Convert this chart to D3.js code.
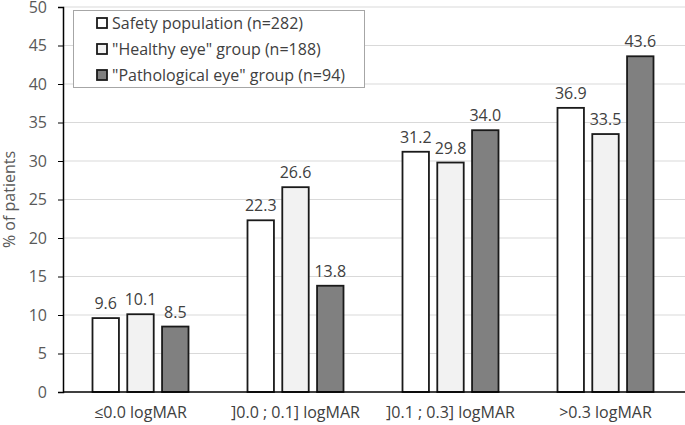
<!DOCTYPE html>
<html><head><meta charset="utf-8">
<script src="https://cdn.jsdelivr.net/npm/d3@7"></script>
<style>body{margin:0;background:#fff}svg{display:block}text{font-family:"Open Sans",sans-serif}</style>
</head><body><svg id="c" width="685" height="425"></svg>
<script>
const categories = ["≤0.0 logMAR", "]0.0 ; 0.1] logMAR", "]0.1 ; 0.3] logMAR", ">0.3 logMAR"];
const seriesNames = ["Safety population (n=282)", "\"Healthy eye\" group (n=188)", "\"Pathological eye\" group (n=94)"];
const safety = [9.6, 22.3, 31.2, 36.9];
const healthy = [10.1, 26.6, 29.8, 33.5];
const pathological = [8.5, 13.8, 34.0, 43.6];
const yTicks = [0, 5, 10, 15, 20, 25, 30, 35, 40, 45, 50];
const fills = ["#ffffff", "#f2f2f2", "#808080"];
const series = [safety, healthy, pathological];

const svg = d3.select("#c");
const m = {l: 63, r: 0, t: 7, b: 33};
const W = 685, H = 425;
const x = d3.scaleBand().domain(categories).range([m.l, 683]).paddingInner(0).paddingOuter(0);
const xs = d3.scaleBand().domain([0,1,2]).range([0, 96]).paddingInner(0.24);
const y = d3.scaleLinear().domain([0, 50]).range([H - m.b, m.t]);
const FS = 16;

// gridlines
svg.append("g").selectAll("line").data(yTicks.filter(d => d > 0)).join("line")
  .attr("x1", m.l).attr("x2", W).attr("y1", d => y(d)).attr("y2", d => y(d))
  .attr("stroke", "#d9d9d9").attr("stroke-width", 1);

// y axis
const ya = svg.append("g").attr("transform", `translate(${m.l},0)`)
  .call(d3.axisLeft(y).tickValues(yTicks).tickSize(5).tickPadding(11));
ya.select(".domain").attr("stroke", "#000").attr("stroke-width", 1.5);
ya.selectAll(".tick line").attr("stroke", "#000").attr("stroke-width", 1);
ya.selectAll(".tick text").attr("font-size", FS).attr("fill", "#595959").attr("font-family", "Open Sans, sans-serif");

// bars
const groups = svg.append("g").selectAll("g").data(categories).join("g")
  .attr("transform", c => `translate(${x(c) + (x.bandwidth() - 96) / 2},0)`);
groups.each(function(c, ci) {
  const g = d3.select(this);
  series.forEach((s, si) => {
    g.append("rect").attr("x", xs(si)).attr("width", xs.bandwidth())
      .attr("y", y(s[ci])).attr("height", y(0) - y(s[ci]))
      .attr("fill", fills[si]).attr("stroke", "#1a1a1a").attr("stroke-width", 1.8);
    g.append("text").attr("x", xs(si) + xs.bandwidth() / 2).attr("y", y(s[ci]) - 9)
      .attr("text-anchor", "middle").attr("font-size", FS).attr("fill", "#404040")
      .text(s[ci].toFixed(1));
  });
});

// x axis line
svg.append("line").attr("x1", m.l).attr("x2", W).attr("y1", y(0)).attr("y2", y(0))
  .attr("stroke", "#000").attr("stroke-width", 1.5);
svg.append("g").selectAll("text").data(categories).join("text")
  .attr("x", c => x(c) + x.bandwidth() / 2).attr("y", 418)
  .attr("text-anchor", "middle").attr("font-size", FS).attr("fill", "#404040").text(c => c);

// y label
svg.append("text").attr("transform", `translate(15,${y(25)}) rotate(-90)`)
  .attr("text-anchor", "middle").attr("font-size", FS).attr("fill", "#595959").text("% of patients");

// legend
const lg = svg.append("g");
lg.append("rect").attr("x", 73.5).attr("y", 10.5).attr("width", 291).attr("height", 77)
  .attr("fill", "#fff").attr("stroke", "#a6a6a6").attr("stroke-width", 1);
seriesNames.forEach((n, i) => {
  const cy = 23 + i * 26;
  lg.append("rect").attr("x", 97).attr("y", cy - 5).attr("width", 10).attr("height", 10)
    .attr("fill", fills[i]).attr("stroke", "#1a1a1a").attr("stroke-width", 1.8);
  lg.append("text").attr("x", 112).attr("y", cy + 6).attr("font-size", FS).attr("fill", "#404040").text(n);
});
</script></body></html>
